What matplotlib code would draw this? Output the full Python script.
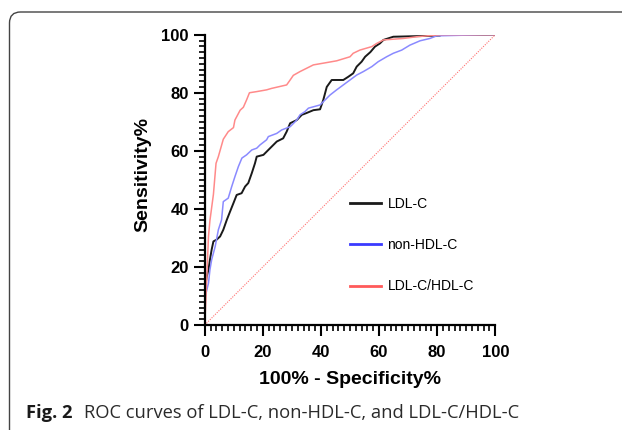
import matplotlib
matplotlib.use("Agg")
import matplotlib.pyplot as plt
from matplotlib.patches import FancyBboxPatch
from matplotlib.ticker import MultipleLocator

# ROC points (100% - specificity, sensitivity)
ldl_x = [0, 0.2, 0.7, 1.3, 1.8, 2.4, 3.0, 4.1, 5.3, 6.4, 7.6, 8.7, 9.9, 11.0, 12.7, 13.9,
         15.0, 16.2, 17.3, 17.9, 20.2, 21.9, 23.6, 24.8, 27.0, 28.2, 29.4, 31.7, 33.4, 35.0,
         37.4, 39.7, 40.8, 42.0, 43.7, 47.7, 49.4, 51.1, 52.3, 54.0, 55.2, 57.0, 58.6, 60.3,
         61.5, 64.9, 81.0, 81.2, 100]
ldl_y = [0, 13.3, 16.7, 19.0, 22.5, 26.0, 28.8, 29.4, 30.5, 32.8, 36.2, 39.0, 42.0, 44.8, 45.4,
         47.7, 48.9, 52.3, 55.7, 58.0, 58.6, 60.3, 62.0, 63.2, 64.3, 66.6, 69.5, 70.6, 72.4, 73.0,
         74.0, 74.3, 77.5, 82.0, 84.4, 84.4, 85.5, 86.7, 89.0, 90.7, 92.4, 94.0, 95.9, 97.0,
         98.2, 99.3, 99.7, 100, 100]

nonhdl_x = [0, 0.2, 1.3, 1.8, 2.4, 3.6, 4.7, 5.8, 6.4, 8.1, 9.3, 10.4, 11.6, 12.8, 14.4,
            16.2, 17.9, 19.0, 21.3, 21.9, 24.8, 26.5, 29.4, 31.7, 32.8, 34.5, 35.7, 39.7, 41.4,
            43.1, 45.4, 47.7, 50.0, 52.3, 54.6, 57.5, 59.7, 62.6, 64.9, 67.8, 70.6, 74.1, 77.5,
            79.8, 95.9, 100]
nonhdl_y = [0, 9.9, 14.4, 19.0, 22.5, 27.0, 32.8, 36.2, 42.5, 43.7, 47.7, 51.1, 54.6, 57.5, 58.6,
            60.3, 60.9, 62.0, 63.8, 64.9, 66.0, 67.2, 68.3, 70.6, 72.4, 73.5, 74.7, 75.8, 77.5,
            79.2, 81.0, 82.7, 84.4, 86.1, 87.3, 89.0, 90.7, 92.4, 93.6, 94.7, 96.4, 97.9, 98.7,
            99.6, 100, 100]

ratio_x = [0, 0.5, 1.3, 1.8, 3.0, 3.9, 4.7, 6.4, 8.1, 9.9, 10.4, 12.2, 13.3, 14.4, 15.4,
           17.9, 21.3, 23.0, 28.2, 29.4, 30.5, 32.8, 35.0, 37.4, 42.0, 45.4, 50.0, 51.1, 53.4,
           57.5, 59.2, 61.5, 68.3, 73.0, 81.0, 100]
ratio_y = [0, 11.0, 30.5, 36.0, 45.0, 55.7, 58.0, 64.0, 66.6, 68.0, 70.6, 74.0, 75.0, 77.5, 80.0,
           80.4, 81.0, 81.5, 82.7, 84.4, 86.0, 87.3, 88.4, 89.6, 90.4, 91.0, 92.4, 93.6, 94.7,
           95.9, 97.0, 98.2, 98.7, 99.3, 100, 100]

labels = ["LDL-C", "non-HDL-C", "LDL-C/HDL-C"]
ref_line = [0, 100]

plt.rcParams['font.family'] = ['Liberation Sans', 'DejaVu Sans']

fig = plt.figure(figsize=(6.22, 4.30), dpi=100)
ax = fig.add_axes([0.3291, 0.2442, 0.4672, 0.6751])

l1, = ax.plot(ldl_x, ldl_y, color='#1a1a1a', lw=1.4, label=labels[0])
l2, = ax.plot(nonhdl_x, nonhdl_y, color='#8a8aff', lw=1.1, label=labels[1])
l3, = ax.plot(ratio_x, ratio_y, color='#ff8a8a', lw=1.1, label=labels[2])
ax.plot(ref_line, ref_line, color='#ff7070', lw=0.8, linestyle=(0, (1, 1.2)))

ax.set_xlim(0, 100)
ax.set_ylim(0, 100)
ax.spines['top'].set_visible(False)
ax.spines['right'].set_visible(False)
for s in ['left', 'bottom']:
    ax.spines[s].set_linewidth(1.6)

ax.xaxis.set_major_locator(MultipleLocator(20))
ax.yaxis.set_major_locator(MultipleLocator(20))
ax.xaxis.set_minor_locator(MultipleLocator(2))
ax.yaxis.set_minor_locator(MultipleLocator(2))
ax.tick_params(which='major', length=8, width=1.5, labelsize=12, pad=3.5)
ax.tick_params(which='minor', length=4.3, width=1.2)
ax.tick_params(axis='x', which='major', pad=6.5)
for t in ax.get_xticklabels() + ax.get_yticklabels():
    t.set_fontweight('bold')

ax.set_xlabel('100% - Specificity%', fontsize=14, fontweight='bold')
ax.set_ylabel('Sensitivity%', fontsize=14, fontweight='bold')
ax.xaxis.set_label_coords(0.5, -0.16)
ax.yaxis.set_label_coords(-0.185, 0.52)

leg = ax.legend(handles=[l1, l2, l3], loc='upper left', bbox_to_anchor=(0.5, 0.44),
                frameon=False, fontsize=10, handlelength=2.2, handletextpad=0.5,
                labelspacing=1.95, borderpad=0, borderaxespad=0)
for h, c in zip(leg.legend_handles, ['#1a1a1a', '#3a3aff', '#ff5a5a']):
    h.set_color(c)
    h.set_linewidth(2)

# rounded frame around the figure panel
frame = FancyBboxPatch((9.5, -30), 720, 448, boxstyle='round,pad=0,rounding_size=11',
                       transform=None, fill=False, edgecolor='#444444', lw=1)
fig.add_artist(frame)

# caption
cap1 = fig.text(26 / 622, 1 - 413 / 430, 'Fig. 2', fontsize=13.2, fontweight='bold',
                family=['Open Sans', 'DejaVu Sans'], va='center', ha='left', color='#1a1a1a')
fig.canvas.draw()
bb = cap1.get_window_extent()
fig.text((bb.x1 + 11) / 622, 1 - 413 / 430, 'ROC curves of LDL-C, non-HDL-C, and LDL-C/HDL-C',
         fontsize=13.2, family=['Open Sans', 'DejaVu Sans'], va='center', ha='left',
         color='#2a2a2a')

fig.savefig('out.png', dpi=100)
